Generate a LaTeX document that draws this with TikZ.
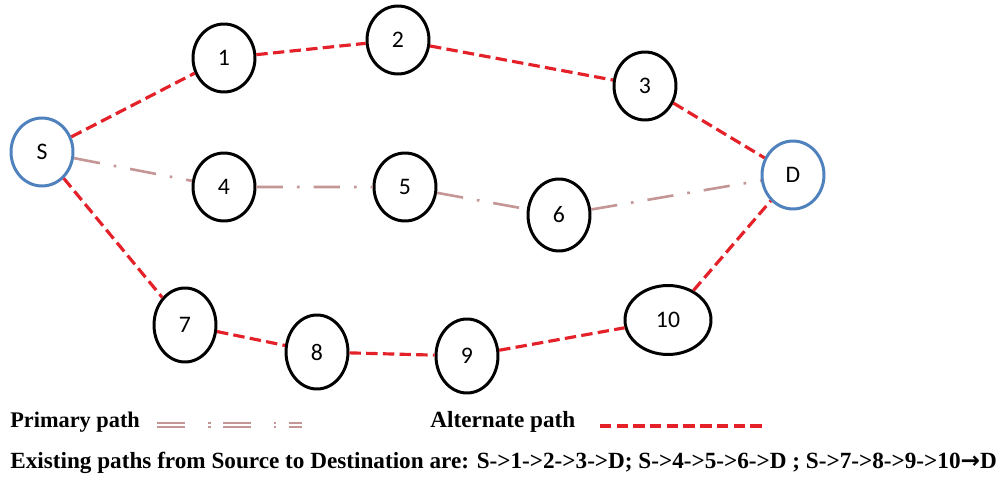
\documentclass[tikz,border=0pt]{standalone}
\usepackage{fontspec}
\setmainfont{Liberation Serif}
\newfontfamily\nodefont{Carlito}
\newfontfamily\arrowfont{DejaVu Sans}
\usetikzlibrary{shapes.geometric}
\definecolor{altred}{RGB}{228,32,40}
\definecolor{primpink}{RGB}{196,150,150}
\definecolor{endblue}{RGB}{79,129,189}
\tikzset{
  hop/.style={ellipse,draw=black,line width=1.7pt,minimum width=1.24cm,minimum height=1.36cm,inner sep=0pt,font=\nodefont\fontsize{13.5}{13.5}\selectfont},
  endpt/.style={hop,draw=endblue},
  altpath/.style={draw=altred,line width=1.8pt,dash pattern=on 6.5pt off 3pt},
  primpath/.style={draw=primpink,line width=1.5pt,dash pattern=on 15pt off 8pt on 1.5pt off 8pt},
  legtext/.style={anchor=west,font=\bfseries\fontsize{13.2}{14}\selectfont,inner sep=0pt}
}

\begin{document}
\begin{tikzpicture}[x=0.02cm,y=-0.02cm]
    \useasboundingbox (0,0) rectangle (1005,480);
    \node[endpt] (S) at (42,152) {S};
    \node[endpt] (D) at (793,175) {D};
    \node[hop] (n1) at (224,58) {1};
    \node[hop] (n2) at (398,40) {2};
    \node[hop] (n3) at (645,86) {3};
    \node[hop] (n4) at (224,187) {4};
    \node[hop] (n5) at (405,187) {5};
    \node[hop,minimum height=1.44cm] (n6) at (559,215) {6};
    \node[hop,minimum height=1.48cm] (n7) at (185,325) {7};
    \node[hop,minimum height=1.48cm] (n8) at (317,352) {8};
    \node[hop,minimum height=1.48cm] (n9) at (467,356) {9};
    \node[hop,minimum width=1.72cm,minimum height=1.38cm] (n10) at (668,320) {10};
    \draw[altpath] (S) -- (n1) -- (n2) -- (n3) -- (D);
    \draw[altpath] (S) -- (n7) -- (n8) -- (n9) -- (n10) -- (D);
    \draw[primpath] (S) -- (n4) -- (n5) -- (n6) -- (D);
    \node[legtext,font=\bfseries\fontsize{12.7}{14}\selectfont] (prim) at (10,422) {Primary path};
    \node[legtext] (alt) at (430,422) {Alternate path};
    \coordinate (pa) at (157,425);
    \coordinate (pb) at (302,425);
    \coordinate (aa) at (600,426);
    \coordinate (ab) at (762,426);
    \draw[primpink,double,double distance=1.6pt,line width=1pt,dash pattern=on 16pt off 13pt on 1.5pt off 7pt] (pa) -- (pb);
    \draw[altpath] (aa) -- (ab);
    \node[legtext] (paths) at (10,463) {Existing paths from Source to Destination are: S->1->2->3->D; S->4->5->6->D ; S->7->8->9->10{\arrowfont\bfseries →}D};
\end{tikzpicture}
\end{document}
